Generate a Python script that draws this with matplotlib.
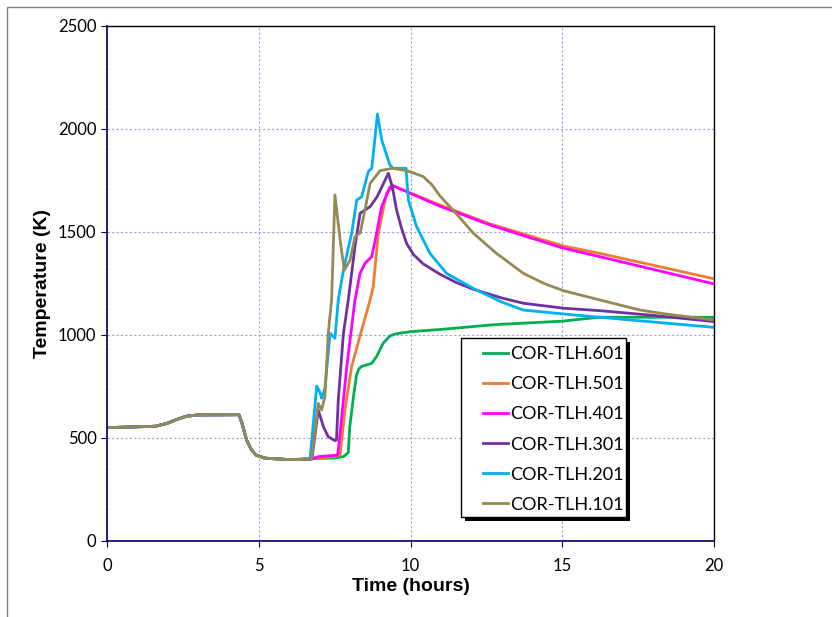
import matplotlib
matplotlib.use("Agg")
import matplotlib.pyplot as plt
from matplotlib.patches import Rectangle

# shared part of all curves (before they split)
t_common = [0, 1.6, 2.0, 2.3, 2.6, 3.0, 4.35, 4.45, 4.6, 4.75, 4.9, 5.2, 6.0, 6.7]
T_common = [550, 557, 572, 590, 605, 612, 613, 570, 490, 445, 418, 402, 395, 398]

t601 = [6.8, 7.5, 7.8, 7.95, 8.0, 8.12, 8.22, 8.3, 8.4, 8.72, 8.88, 9.1, 9.32, 9.5, 9.7, 10.0, 11.0, 12.6, 13.0, 15.0, 16.2, 17.0, 20.0]
T601 = [400, 403, 410, 430, 555, 700, 805, 836, 848, 862, 895, 960, 995, 1005, 1010, 1016, 1027, 1048, 1052, 1067, 1086, 1086, 1086]

t501 = [6.8, 7.5, 7.68, 7.84, 8.06, 8.39, 8.67, 8.77, 8.94, 9.21, 9.43, 10.97, 12.6, 15.04, 16.24, 20.0]
T501 = [402, 410, 417, 636, 846, 1024, 1170, 1234, 1494, 1688, 1723, 1631, 1540, 1432, 1396, 1273]

t401 = [6.8, 6.95, 7.6, 7.68, 7.9, 8.17, 8.34, 8.5, 8.72, 8.86, 9.05, 9.32, 9.42, 10.97, 12.62, 15.04, 16.24, 20.0]
T401 = [400, 409, 417, 524, 846, 1170, 1300, 1348, 1380, 1477, 1623, 1717, 1725, 1625, 1534, 1421, 1380, 1248]

t301 = [6.75, 6.96, 7.13, 7.29, 7.51, 7.56, 7.62, 7.79, 7.95, 8.17, 8.34, 8.67, 8.9, 9.27, 9.4, 9.54, 9.7, 9.87, 10.1, 10.42, 10.97, 11.5, 12.07, 13.0, 13.72, 15.04, 16.24, 18.0, 20.0]
T301 = [398, 636, 555, 506, 487, 490, 684, 1008, 1170, 1429, 1591, 1623, 1671, 1785, 1720, 1607, 1520, 1445, 1390, 1345, 1295, 1255, 1222, 1180, 1154, 1130, 1118, 1095, 1065]

t201 = [6.69, 6.91, 7.02, 7.07, 7.18, 7.35, 7.51, 7.62, 7.79, 8.06, 8.23, 8.39, 8.61, 8.72, 8.74, 8.91, 9.05, 9.32, 9.43, 9.85, 9.93, 10.2, 10.64, 11.19, 12.07, 13.0, 13.72, 15.04, 16.24, 20.0]
T201 = [398, 752, 720, 693, 741, 1008, 984, 1170, 1315, 1494, 1655, 1671, 1793, 1809, 1830, 2073, 1947, 1825, 1809, 1809, 1655, 1526, 1396, 1299, 1226, 1160, 1121, 1102, 1086, 1037]

t101 = [6.74, 6.96, 7.07, 7.18, 7.29, 7.4, 7.51, 7.68, 7.82, 8.01, 8.17, 8.34, 8.5, 8.67, 9.0, 9.4, 9.87, 10.42, 10.7, 10.97, 11.5, 12.07, 12.8, 13.72, 14.4, 15.04, 16.24, 17.56, 18.5, 20.0]
T101 = [398, 668, 636, 700, 1008, 1170, 1680, 1461, 1315, 1364, 1477, 1494, 1607, 1736, 1798, 1809, 1798, 1769, 1730, 1675, 1590, 1494, 1400, 1299, 1250, 1215, 1170, 1121, 1100, 1073]

series = [
    ("COR-TLH.601", t601, T601, "#00B050"),
    ("COR-TLH.501", t501, T501, "#ED7D31"),
    ("COR-TLH.401", t401, T401, "#FF00FF"),
    ("COR-TLH.301", t301, T301, "#7030A0"),
    ("COR-TLH.201", t201, T201, "#00B0F0"),
    ("COR-TLH.101", t101, T101, "#948A54"),
]

fig = plt.figure(figsize=(8.32, 6.17), dpi=100)
fig.patches.append(Rectangle((0.009, -0.1), 1.2, 1.088, transform=fig.transFigure,
                             fill=False, edgecolor="#808080", linewidth=1.0))
ax = fig.add_axes([0.1286, 0.1232, 0.7296, 0.8347])

for name, t, T, c in series:
    ax.plot(t_common + t, T_common + T, color=c, linewidth=2.0, label=name)

ax.set_xlim(0, 20)
ax.set_ylim(0, 2500)
ax.set_xticks([0, 5, 10, 15, 20])
ax.set_yticks([0, 500, 1000, 1500, 2000, 2500])
ax.grid(True, color="#9f9fdf", linestyle=(0, (2, 2)), linewidth=0.8)
for s in ["left", "bottom"]:
    ax.spines[s].set_color("#000060")
    ax.spines[s].set_linewidth(1.2)
for s in ["top", "right"]:
    ax.spines[s].set_color("black")
    ax.spines[s].set_linewidth(1.0)
ax.tick_params(direction="out", length=4, colors="#000060", labelcolor="black", labelsize=12)
for lab in ax.get_xticklabels() + ax.get_yticklabels():
    lab.set_family("Lato")
ax.tick_params(axis="x", pad=8)

ax.set_xlabel("Time (hours)", fontsize=14, fontweight="bold", family="Liberation Sans", labelpad=3)
ax.set_ylabel("Temperature (K)", fontsize=14, fontweight="bold", family="Liberation Sans", labelpad=5)

# legend box drawn by hand (wide left margin, tight right margin, solid shadow)
bx, by, bw, bh = 0.583, 0.0466, 0.272, 0.3474
sh = Rectangle((bx + 0.006, by - 0.007), bw, bh, transform=ax.transAxes,
               facecolor="black", edgecolor="none", zorder=4)
box = Rectangle((bx, by), bw, bh, transform=ax.transAxes,
                facecolor="white", edgecolor="black", linewidth=1.0, zorder=4.5)
ax.add_patch(sh)
ax.add_patch(box)

leg = ax.legend(loc="upper left", bbox_to_anchor=(0.6195, 0.378),
                frameon=False, handlelength=1.4, handletextpad=0.1, borderpad=0.0,
                labelspacing=0.78, borderaxespad=0.0, prop={"family": "Lato", "size": 13})
leg.set_zorder(6)

fig.savefig("out.png", dpi=100)
